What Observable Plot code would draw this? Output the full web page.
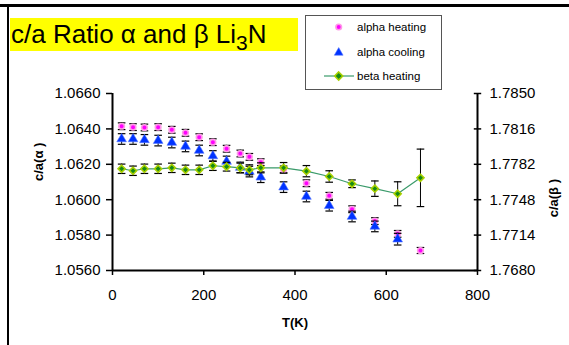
<!DOCTYPE html>
<html>
<head>
<meta charset="utf-8">
<script src="https://cdn.jsdelivr.net/npm/d3@7"></script>
<script src="https://cdn.jsdelivr.net/npm/@observablehq/plot@0.6"></script>
<style>
  body { margin: 0; background: #fff; }
  #chart { position: relative; width: 569px; height: 345px; overflow: hidden;
           font-family: "Liberation Sans", Arial, sans-serif; color: #000; }
  #chart svg { position: absolute; left: 0; top: 0; }
  .frame-top { position: absolute; left: 0; top: 4px; width: 569px; height: 3px; background: #000; }
  .frame-left { position: absolute; left: 7px; top: 4px; width: 2px; height: 341px; background: #000; }
  .title { position: absolute; left: 10px; top: 18px; width: 288px; height: 33px; background: #ffff00;
           font-size: 26px; line-height: 33px; white-space: nowrap; padding-left: 1px; box-sizing: border-box; }
  .title .sub { font-size: 21px; position: relative; top: 7px; }
  .legend { position: absolute; left: 305px; top: 15px; width: 137px; height: 75px; border: 1px solid #555;
            background: #fff; box-sizing: border-box; font-size: 11.5px; }
  .legend .row { position: absolute; left: 0; height: 14px; line-height: 14px; width: 135px; }
  .legend .row svg { position: absolute; left: 0; top: 0; }
  .legend .row span { position: absolute; left: 51px; top: 0; }
</style>
</head>
<body>
<div id="chart">
  <div class="frame-top"></div>
  <div class="frame-left"></div>
</div>
<script>
// Temperatures (K) of each measurement
const temps = [20, 45, 70, 100, 130, 160, 190, 220, 250, 280, 300, 325, 375, 425, 475, 525, 575, 625, 675];

// alpha-Li3N c/a ratio (left axis)
const alphaHeating    = [1.06415, 1.06410, 1.06408, 1.06410, 1.06395, 1.06378, 1.06353, 1.06325, 1.06288, 1.06261,
                         1.06242, 1.06212, 1.06171, 1.06093, 1.06022, 1.05946, 1.05879, 1.05807, 1.05713];
const alphaHeatingErr = [0.00019, 0.00019, 0.00019, 0.00019, 0.00019, 0.00019, 0.00019, 0.00019, 0.00019, 0.00019,
                         0.00019, 0.00019, 0.00019, 0.00019, 0.00019, 0.00019, 0.00019, 0.00019, 0.00017];
const alphaCooling    = [1.06343, 1.06343, 1.06338, 1.06334, 1.06323, 1.06301, 1.06278, 1.06247, 1.06216, 1.06182,
                         1.06159, 1.06127, 1.06071, 1.06018, 1.05966, 1.05905, 1.05849, 1.05777, null];
const alphaCoolingErr = [0.0003, 0.0003, 0.0003, 0.0003, 0.0003, 0.0003, 0.0003, 0.0003, 0.0003, 0.0003,
                         0.0003, 0.0003, 0.0003, 0.0003, 0.0003, 0.0003, 0.0003, 0.00033, null];

// beta-Li3N c/a ratio (right axis)
const betaHeating     = [1.77777, 1.77758, 1.77777, 1.77777, 1.77786, 1.77767, 1.77767, 1.77806, 1.77797, 1.77785,
                         1.77767, 1.77786, 1.77786, 1.77754, 1.77703, 1.77633, 1.77586, 1.77537, 1.77690];
const betaHeatingErr  = [0.00045, 0.00045, 0.00045, 0.00045, 0.00045, 0.00045, 0.00045, 0.00045, 0.00042, 0.00046,
                         0.00048, 0.00048, 0.00051, 0.00054, 0.00055, 0.00037, 0.00074, 0.00115, 0.00276];

// Axes
const xDomain     = [0, 800];
const xTicks      = [0, 200, 400, 600, 800];
const leftDomain  = [1.056, 1.066];
const leftTicks   = [1.056, 1.058, 1.060, 1.062, 1.064, 1.066];
const rightDomain = [1.768, 1.785];
const rightTicks  = [1.768, 1.7714, 1.7748, 1.7782, 1.7816, 1.785];

const seriesNames = ["alpha heating", "alpha cooling", "beta heating"];
const titleParts  = ["c/a Ratio \u03b1 and \u03b2 Li", "3", "N"];
const xLabel = "T(K)", leftLabel = "c/a(\u03b1 )", rightLabel = "c/a(\u03b2 )";

// Map beta values onto the left scale so both series share one plot
const k = (leftDomain[1] - leftDomain[0]) / (rightDomain[1] - rightDomain[0]);
const toLeft  = v => leftDomain[0] + (v - rightDomain[0]) * k;
const toRight = v => rightDomain[0] + (v - leftDomain[0]) / k;

const rowsAH = temps.map((T, i) => ({T, v: alphaHeating[i], lo: alphaHeating[i] - alphaHeatingErr[i], hi: alphaHeating[i] + alphaHeatingErr[i]}));
const rowsAC = temps.map((T, i) => alphaCooling[i] == null ? null :
  ({T, v: alphaCooling[i], lo: alphaCooling[i] - alphaCoolingErr[i], hi: alphaCooling[i] + alphaCoolingErr[i]})).filter(d => d);
const rowsB  = temps.map((T, i) => ({T, v: toLeft(betaHeating[i]), lo: toLeft(betaHeating[i] - betaHeatingErr[i]), hi: toLeft(betaHeating[i] + betaHeatingErr[i])}));

// Horizontal dash symbol used for error-bar caps and crossing ticks
const dash = {draw(ctx, size) { const r = Math.sqrt(size / Math.PI); ctx.moveTo(-r, 0); ctx.lineTo(r, 0); }};

function errorBars(rows) {
  return [
    Plot.ruleX(rows, {x: "T", y1: "lo", y2: "hi", stroke: "#000", strokeWidth: 1}),
    Plot.dot(rows, {x: "T", y: "lo", symbol: dash, r: 3.8, stroke: "#000", fill: "none", strokeWidth: 1.2}),
    Plot.dot(rows, {x: "T", y: "hi", symbol: dash, r: 3.8, stroke: "#000", fill: "none", strokeWidth: 1.2})
  ];
}

const fmt = d3.format(".4f");

const plot = Plot.plot({
  width: 569,
  height: 345,
  marginLeft: 112,
  marginRight: 92,
  marginTop: 93,
  marginBottom: 75,
  style: {background: "transparent", fontFamily: "'Liberation Sans', Arial, sans-serif", fontSize: "15px", overflow: "visible"},
  x: {domain: xDomain},
  y: {domain: leftDomain},
  marks: [
    Plot.axisX({ticks: xTicks, tickSize: 5, tickPadding: 14, label: null, strokeWidth: 1.5, fontSize: 15}),
    Plot.axisY({ticks: leftTicks, tickFormat: fmt, tickSize: 6, tickPadding: 6, label: null, anchor: "left", strokeWidth: 1.5, fontSize: 15}),
    Plot.axisY({ticks: rightTicks.map(toLeft), tickFormat: d => fmt(toRight(d)), tickSize: 0, tickPadding: 12, label: null, anchor: "right", fontSize: 15}),
    Plot.dot(rightTicks.map(toLeft), {x: () => xDomain[1], y: d => d, symbol: dash, r: 3.7, stroke: "#000", strokeWidth: 1.5}),
    Plot.ruleX([xDomain[0]], {stroke: "#000", strokeWidth: 2}),
    Plot.ruleX([xDomain[1]], {stroke: "#000", strokeWidth: 2}),
    Plot.ruleY([leftDomain[0]], {stroke: "#000", strokeWidth: 2}),

    // alpha heating
    ...errorBars(rowsAH),
    Plot.dot(rowsAH, {x: "T", y: "v", r: 2.8, fill: "#ff00ff", stroke: "#ff9be8", strokeWidth: 1.6}),
    // alpha cooling
    ...errorBars(rowsAC),
    Plot.dot(rowsAC, {x: "T", y: "v", symbol: "triangle", r: 3.6, fill: "#0033ff", stroke: "#5577ff", strokeWidth: 0.6}),
    // beta heating
    Plot.line(rowsB, {x: "T", y: "v", stroke: "#3a9a6a", strokeWidth: 1.2}),
    ...errorBars(rowsB),
    Plot.dot(rowsB, {x: "T", y: "v", symbol: "diamond2", r: 3.2, fill: "#158a15", stroke: "#a8d000", strokeWidth: 1.6}),

    // axis titles
    Plot.text([xLabel], {frameAnchor: "bottom", dy: 52, lineAnchor: "middle", fontWeight: "bold", fontSize: 13}),
    Plot.text([leftLabel], {frameAnchor: "left", dx: -74, dy: -1, rotate: -90, lineAnchor: "middle", fontWeight: "bold", fontSize: 13}),
    Plot.text([rightLabel], {frameAnchor: "right", dx: 76, dy: -3, rotate: -90, lineAnchor: "middle", fontWeight: "bold", fontSize: 13})
  ]
});

const chart = document.getElementById("chart");
chart.appendChild(plot);

// Title
const title = document.createElement("div");
title.className = "title";
title.innerHTML = `${titleParts[0]}<span class="sub">${titleParts[1]}</span>${titleParts[2]}`;
chart.appendChild(title);

// Legend
const legend = document.createElement("div");
legend.className = "legend";
const icons = [
  `<svg width="50" height="14"><circle cx="32.7" cy="7" r="2.8" fill="#ff00ff" stroke="#ff9be8" stroke-width="1.6"/></svg>`,
  `<svg width="50" height="14"><path d="M32.7,2.6 L37.1,10.2 L28.3,10.2 Z" fill="#0033ff" stroke="#5577ff" stroke-width="0.6"/></svg>`,
  `<svg width="50" height="14"><line x1="18" x2="48" y1="7" y2="7" stroke="#3a9a6a" stroke-width="1.2"/><path d="M32.7,3 L36.7,7 L32.7,11 L28.7,7 Z" fill="#158a15" stroke="#a8d000" stroke-width="1.6"/></svg>`
];
const rowTops = [4, 29, 53];
seriesNames.forEach((name, i) => {
  const row = document.createElement("div");
  row.className = "row";
  row.style.top = rowTops[i] + "px";
  row.innerHTML = icons[i] + `<span>${name}</span>`;
  legend.appendChild(row);
});
chart.appendChild(legend);
</script>
</body>
</html>
